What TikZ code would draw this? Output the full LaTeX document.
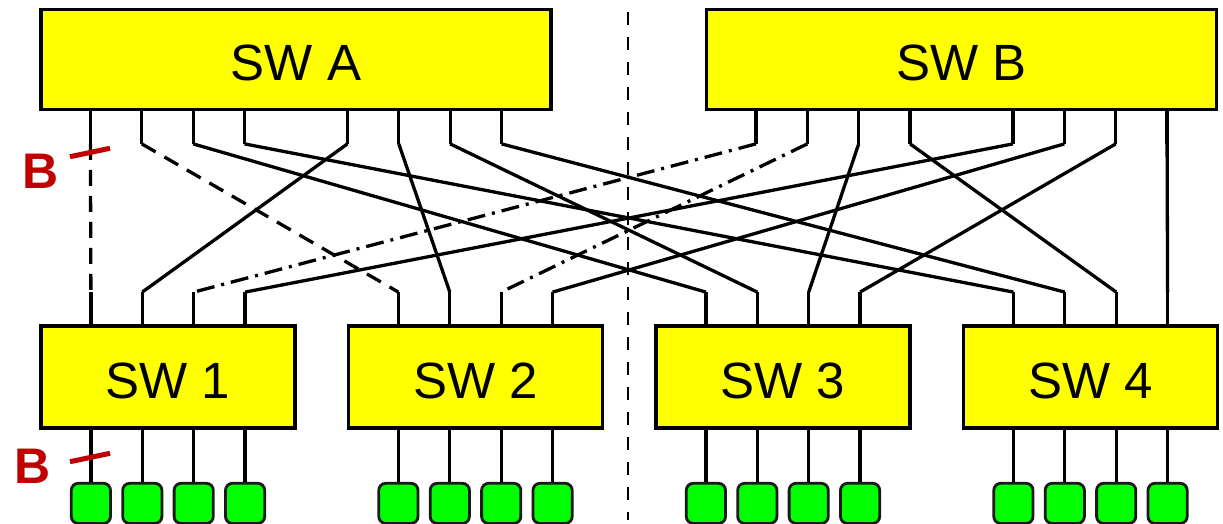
\documentclass[tikz,border=0pt]{standalone}
\usepackage{fontspec}
\setmainfont{Liberation Sans}
\usepackage{xcolor}
\usepackage{tikz}
\usetikzlibrary{positioning,calc}
\definecolor{swfill}{HTML}{FFFF00}
\definecolor{hostfill}{HTML}{00FF00}
\definecolor{breakred}{HTML}{C00000}
\tikzset{
  sw/.style={draw=black,line width=1.9pt,fill=swfill,inner sep=0pt,
    font=\fontsize{25.5pt}{30pt}\selectfont,text height=21.3pt,text depth=0pt},
  swtop/.style={sw,minimum width=255pt,minimum height=50pt},
  swbot/.style={sw,minimum width=127pt,minimum height=51pt},
  host/.style={draw=black!90,line width=1.4pt,fill=hostfill,rounded corners=3.5pt,
    inner sep=0pt,minimum width=19.6pt,minimum height=20.1pt},
  wire/.style={line width=1.65pt},
  dashwire/.style={wire,dash pattern=on 8pt off 5pt},
  dotwire/.style={wire,dash pattern=on 9pt off 3.5pt on 1.5pt off 3.5pt},
  split/.style={line width=1pt,dash pattern=on 6.5pt off 6pt},
  cut/.style={draw=breakred,line width=2.5pt},
  cutlab/.style={text=breakred,inner sep=0pt,font=\fontsize{25pt}{30pt}\selectfont\bfseries},
}
\begin{document}
\begin{tikzpicture}[x=0.5pt,y=-0.5pt]
  \useasboundingbox (0,0) rectangle (1223,524);
  % core switches
  \node[swtop](swA) at (296,59.5){SW A};
  \node[swtop](swB) at (961.5,59.5){SW B};
  % edge switches
  \node[swbot](sw1) at (168,377){SW 1};
  \node[swbot](sw2) at (475.5,377){SW 2};
  \node[swbot](sw3) at (783,377){SW 3};
  \node[swbot](sw4) at (1090.5,377){SW 4};
  % uplink stubs of the core
  \foreach \s in {A,B}
    \foreach \k/\d in {1/-102.8,2/-77.1,3/-51.4,4/-25.7,5/25.7,6/51.4,7/77.1,8/102.8}{
      \coordinate(\s\k) at ([xshift=\d pt]sw\s.south);
      \coordinate(\s\k d) at ([yshift=-16.25pt]\s\k);
      \draw[wire](\s\k)--(\s\k d);
    }
  % stubs and hosts of the edge switches
  \foreach \s in {1,...,4}
    \foreach \k/\d in {1/-38.55,2/-12.85,3/12.85,4/38.55}{
      \coordinate(d\s\k) at ([xshift=\d pt]sw\s.north);
      \coordinate(u\s\k) at ([yshift=16pt]d\s\k);
      \draw[wire](d\s\k)--(u\s\k);
      \coordinate(b\s\k) at ([xshift=\d pt]sw\s.south);
      \node[host,below=26pt of b\s\k](h\s\k){};
      \draw[wire](b\s\k)--(h\s\k);
    }
  % links
  \foreach \x/\y in {A3d/u31,A4d/u41,A5d/u12,A6d/u22,A7d/u32,A8d/u42,
                     B3d/u33,B4d/u43,B5d/u14,B6d/u24,B7d/u34,B8d/u44}
    \draw[wire](\x)--(\y);
  \foreach \x/\y in {A1d/u11,A2d/u21} \draw[dashwire](\x)--(\y);
  \foreach \x/\y in {B1d/u13,B2d/u23} \draw[dotwire](\x)--(\y);
  % split between the two halves
  \coordinate(top) at (628,12);
  \coordinate(bot) at (628,520);
  \draw[split](top)--(bot);
  % broken links
  \node[cutlab](cutup) at (41,171){B};
  \draw[cut](70,156.7)--(110,148.3);
  \node[cutlab](cutdn) at (32.5,466){B};
  \draw[cut](70,461.7)--(110,453.3);
\end{tikzpicture}
\end{document}
